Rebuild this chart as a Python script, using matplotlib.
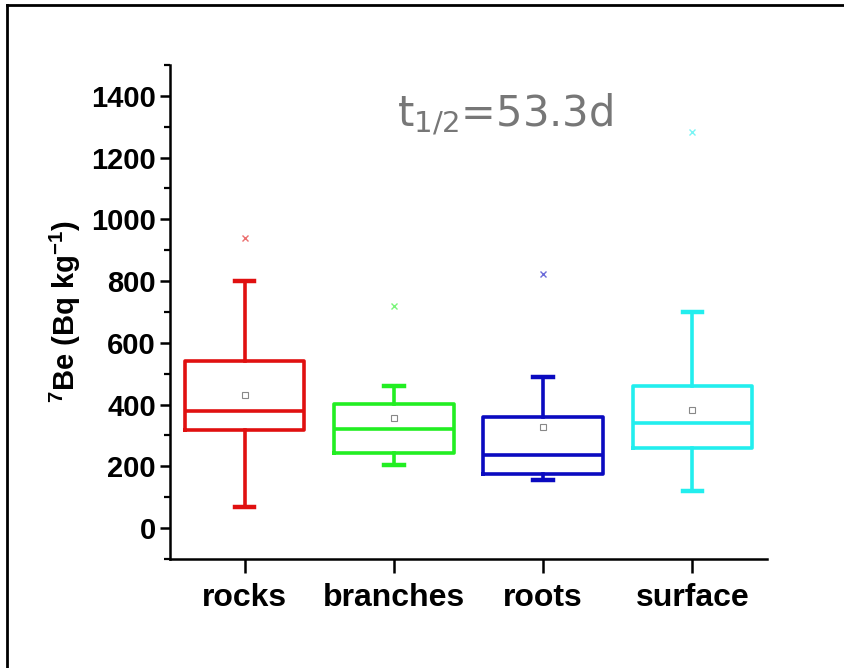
import numpy as np
import matplotlib.pyplot as plt
from matplotlib.lines import Line2D
from matplotlib.ticker import MultipleLocator

# box statistics
categories = ['rocks', 'branches', 'roots', 'surface']
q1 = [319, 244, 174, 260]
medians = [380, 322, 236, 342]
q3 = [540, 401, 361, 459]
whis_lo = [67, 203, 155, 119]
whis_hi = [801, 461, 489, 700]
means = [431, 357, 326, 383]
outliers = [[941], [720], [822], [1283]]
colors = ['#E01010', '#22EE22', '#0A0AC0', '#22EEEE']

plt.rcParams['font.family'] = ['Liberation Sans', 'DejaVu Sans']
plt.rcParams['mathtext.default'] = 'regular'

fig = plt.figure(figsize=(8.44, 6.68), dpi=100)
ax = fig.add_axes([0.2014, 0.1632, 0.7074, 0.7395])

stats = []
for i, name in enumerate(categories):
    stats.append(dict(label=name, q1=q1[i], med=medians[i], q3=q3[i],
                      whislo=whis_lo[i], whishi=whis_hi[i], mean=means[i],
                      fliers=outliers[i]))

pos = np.arange(1, len(categories) + 1)
for i, s in enumerate(stats):
    c = colors[i]
    ax.bxp([s], positions=[pos[i]], widths=0.8, showmeans=True,
           boxprops=dict(color=c, linewidth=2.6),
           medianprops=dict(color=c, linewidth=2.6),
           whiskerprops=dict(color=c, linewidth=2.6),
           capprops=dict(color=c, linewidth=3.2),
           capwidths=0.13,
           meanprops=dict(marker='s', markersize=5, markerfacecolor='none',
                          markeredgecolor='#888888', markeredgewidth=0.8),
           flierprops=dict(marker='x', markersize=5, markeredgecolor=c,
                           markeredgewidth=1.0, alpha=0.6))

ax.set_xlim(0.5, 4.5)
ax.set_ylim(-100, 1500)
ax.set_xticks(pos)
ax.set_xticklabels(categories)
ax.yaxis.set_minor_locator(MultipleLocator(100))
ax.set_yticks(np.arange(0, 1401, 200))

for side in ['top', 'right']:
    ax.spines[side].set_visible(False)
for side in ['left', 'bottom']:
    ax.spines[side].set_linewidth(1.8)

ax.tick_params(axis='y', which='major', direction='out', length=7, width=1.8,
               labelsize=21, pad=3)
ax.tick_params(axis='y', which='minor', direction='out', length=4, width=1.6)
ax.tick_params(axis='x', which='major', direction='out', length=10, width=1.8,
               labelsize=23, pad=7)
for lab in ax.get_xticklabels() + ax.get_yticklabels():
    lab.set_fontweight('bold')

ax.set_ylabel(r'$^{7}$Be (Bq kg$^{-1}$)', fontsize=21,
              fontweight='bold', labelpad=6)

fig.text(0.470, 0.810, r't$_{1/2}$=53.3d', fontsize=30, color='#777777',
         family='DejaVu Sans', ha='left', va='baseline')

# outer frame lines (left and top only)
fig.add_artist(Line2D([0.0083, 0.0083], [0, 0.9925], transform=fig.transFigure,
                      color='black', linewidth=2))
fig.add_artist(Line2D([0.0083, 1.0], [0.9925, 0.9925], transform=fig.transFigure,
                      color='black', linewidth=2))

fig.savefig('out.png', dpi=100, facecolor='white')
